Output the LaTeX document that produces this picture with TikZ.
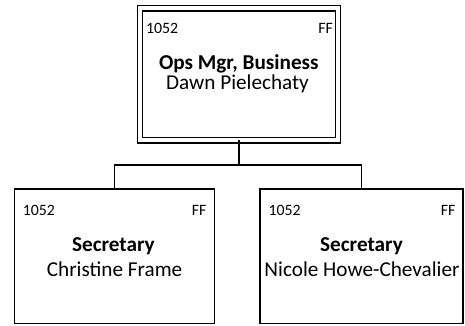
\documentclass[tikz,border=0pt]{standalone}
\usepackage{fontspec}
\setmainfont{Carlito}

\begin{document}
\begin{tikzpicture}[x=1pt, y=-1pt,
    box/.style = {rectangle, draw, line width=1.5pt,% plain position box
                  minimum width=200pt, minimum height=134.5pt,
                  inner sep=0pt, outer sep=0pt},
 topbox/.style = {box, double, line width=1.3pt, double distance=4pt,% head of the unit
                  minimum width=198pt, minimum height=132pt},
   code/.style = {font=\fontsize{15.8}{18}\selectfont, inner sep=0pt},
  title/.style = {font=\fontsize{21.2}{24}\selectfont\bfseries, inner sep=0pt, anchor=base},
 person/.style = {font=\fontsize{21.2}{24}\selectfont, inner sep=0pt, anchor=base},
   link/.style = {line width=1.2pt},
                        ]
\useasboundingbox (0,0) rectangle (465,325);
% boxes
\node[topbox] (mgr) at (239,74.3) {};
\node[box] (sec1) at (114.4,256.2) {};
\node[box, minimum width=203pt] (sec2) at (361.5,256) {};
% texts
\node[code, anchor=base west] (mgr-id) at (146,33) {1052};
\node[code, anchor=base east] (mgr-cc) at (333,33) {FF};
\node[title] (mgr-title) at (238.8,69) {Ops Mgr, Business};
\node[person] (mgr-name) at (237.5,89.3) {Dawn Pielechaty};
\node[code, anchor=base west] (sec1-id) at (22.7,215) {1052};
\node[code, anchor=base east] (sec1-cc) at (206.7,215) {FF};
\node[title] (sec1-title) at (113.4,251) {Secretary};
\node[person] (sec1-name) at (114.6,276.5) {Christine Frame};
\node[code, anchor=base west] (sec2-id) at (268.3,215) {1052};
\node[code, anchor=base east] (sec2-cc) at (455.7,215) {FF};
\node[title] (sec2-title) at (361.5,251) {Secretary};
\node[person] (sec2-name) at (362,276.5) {Nicole Howe-Chevalier};
% connectors
\coordinate (split) at (239,165);
\draw[link] (mgr.south) -- (split);
\draw[link] (split) -| (sec1.north);
\draw[link] (split) -| (sec2.north);
\end{tikzpicture}
\end{document}
